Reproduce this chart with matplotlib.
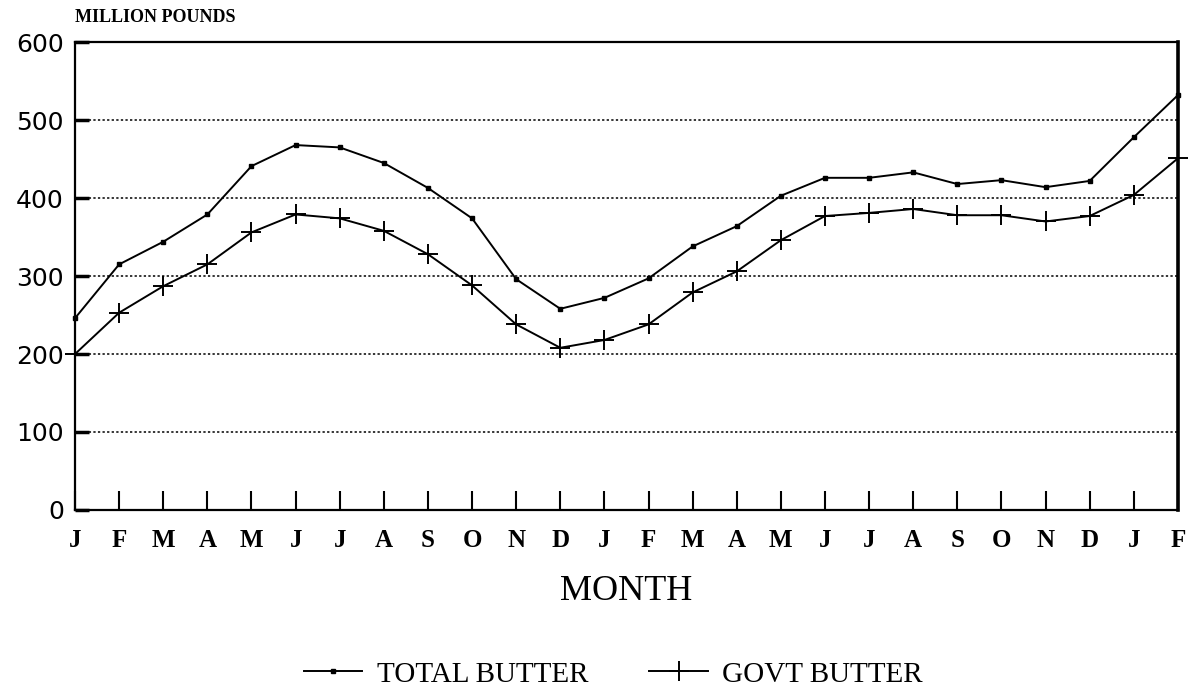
import matplotlib.pyplot as plt

# month labels along the x axis (Jan of year 1 to Feb of year 3)
months = ["J", "F", "M", "A", "M", "J", "J", "A", "S", "O", "N", "D",
          "J", "F", "M", "A", "M", "J", "J", "A", "S", "O", "N", "D",
          "J", "F"]

# million pounds
total_butter = [246, 315, 344, 379, 441, 468, 465, 445, 413, 374, 296, 258,
                272, 297, 338, 364, 403, 426, 426, 433, 418, 423, 414, 422,
                478, 532]
govt_butter = [200, 253, 287, 315, 356, 379, 374, 358, 328, 288, 238, 208,
               218, 238, 279, 306, 346, 377, 381, 386, 378, 378, 370, 377,
               404, 451]

y_ticks = [0, 100, 200, 300, 400, 500, 600]

serif = "Liberation Serif"

fig = plt.figure(figsize=(11.91, 6.91), dpi=100)
ax = fig.add_axes([0.063, 0.262, 0.926, 0.677])

x = list(range(len(months)))
ax.plot(x, total_butter, color="black", lw=1.4, marker="s", ms=3.5,
        label="TOTAL BUTTER", clip_on=False)
ax.plot(x, govt_butter, color="black", lw=1.4, marker="+", ms=15, mew=1.4,
        label="GOVT BUTTER", clip_on=False)

ax.set_xlim(0, len(months) - 1)
ax.set_ylim(0, 600)

ax.set_xticks(x)
ax.set_xticklabels(months, fontfamily=serif, fontweight="bold", fontsize=18)
ax.set_yticks(y_ticks)
ax.set_yticklabels([str(v) for v in y_ticks], fontfamily="DejaVu Sans", fontsize=18)
ax.tick_params(axis="x", direction="in", length=14, width=1.5, pad=14)
ax.tick_params(axis="y", direction="in", length=10, width=2.5, pad=8)

# dotted horizontal grid
for v in y_ticks[1:-1]:
    ax.axhline(v, color="black", lw=1.1, ls=(0, (1.5, 1.5)), zorder=0)

for side in ["left", "bottom", "top"]:
    ax.spines[side].set_linewidth(1.6)
ax.spines["right"].set_linewidth(2.6)

ax.set_xlabel("MONTH", fontfamily=serif, fontsize=26, labelpad=16)
fig.text(0.063, 0.975, "MILLION POUNDS", fontfamily=serif, fontweight="bold",
         fontsize=13, va="center", ha="left")

fig.legend(loc="center", bbox_to_anchor=(0.515, 0.024), ncol=2,
           frameon=False, handlelength=2.0, handletextpad=0.5, columnspacing=2.1,
           prop={"family": serif, "size": 21})

fig.savefig("out.png", dpi=100)
